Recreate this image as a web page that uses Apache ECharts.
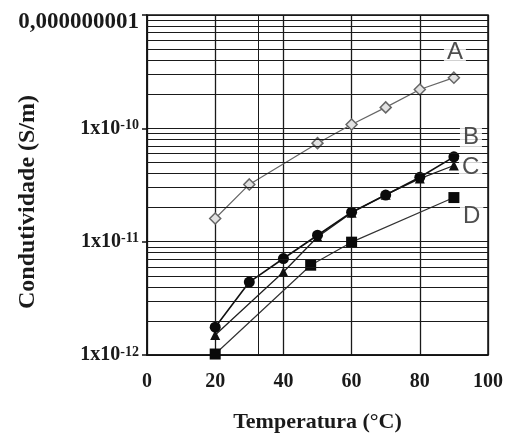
<!DOCTYPE html>
<html>
<head>
<meta charset="utf-8">
<script src="https://cdn.jsdelivr.net/npm/echarts@6/dist/echarts.min.js"></script>
<style>
html,body{margin:0;padding:0;background:#fff;}
#chart{width:515px;height:434px;}
</style>
</head>
<body>
<div id="chart"></div>
<script>
// ---- Data ----
const seriesNames = ['A', 'B', 'C', 'D'];
const xA = [20, 30, 50, 60, 70, 80, 90];
const yA = [1.6e-11, 3.2e-11, 7.4e-11, 1.08e-10, 1.53e-10, 2.2e-10, 2.8e-10];
const xB = [20, 40, 50, 60, 70, 80, 90];
const yB = [1.5e-12, 5.4e-12, 1.1e-11, 1.8e-11, 2.6e-11, 3.6e-11, 4.7e-11];
const xC = [20, 30, 40, 50, 60, 70, 80, 90];
const yC = [1.76e-12, 4.4e-12, 7.1e-12, 1.14e-11, 1.82e-11, 2.58e-11, 3.7e-11, 5.6e-11];
const xD = [20, 48, 60, 90];
const yD = [1.02e-12, 6.2e-12, 9.9e-12, 2.45e-11];
const labelX = [90.3, 95.0, 94.9, 95.2];
const labelY = [4.7e-10, 8.4e-11, 4.5e-11, 1.68e-11];
const xTicks = [0, 20, 40, 60, 80, 100];
const yDecades = [1e-12, 1e-11, 1e-10, 1e-9];
const minorMultipliers = [2, 3, 4, 5, 6, 7, 8, 9];
const extraVerticalLines = [32.5];
const xTitle = 'Temperatura (°C)';
const yTitle = 'Condutividade (S/m)';
const topTickText = '0,000000001';

// ---- Build ----
function pairs(xs, ys) { return xs.map((x, i) => [x, ys[i]]); }
const xMin = xTicks[0], xMax = xTicks[xTicks.length - 1];
const yMin = yDecades[0], yMax = yDecades[yDecades.length - 1];
const minorValues = [];
for (let d = 0; d < yDecades.length - 1; d++) {
  minorMultipliers.forEach(m => minorValues.push(m * yDecades[d]));
}
const gridLineStyle = { color: '#1a1a1a', width: 1, type: 'solid', opacity: 1 };
const gridMarkData = minorValues.map(v => [{ coord: [xMin, v] }, { coord: [xMax, v] }])
  .concat(extraVerticalLines.map(v => [{ coord: [v, yMin] }, { coord: [v, yMax] }]));

const chart = echarts.init(document.getElementById('chart'));
const serif = '"Liberation Serif", "Times New Roman", serif';
chart.setOption({
  animation: false,
  backgroundColor: '#fff',
  grid: { left: 147, right: 27, top: 15, bottom: 79, show: true, borderColor: '#111', borderWidth: 1.5,
          backgroundColor: 'transparent', containLabel: false, outerBoundsMode: 'none' },
  xAxis: {
    type: 'value', min: xMin, max: xMax, interval: 20,
    name: xTitle, nameLocation: 'middle', nameGap: 56, nameMoveOverlap: false,
    nameTextStyle: { fontFamily: serif, fontWeight: 'bold', fontSize: 22, color: '#1a1a1a' },
    axisLine: { show: true, lineStyle: { color: '#111', width: 1.5 } },
    axisTick: { show: false },
    axisLabel: { fontFamily: serif, fontWeight: 'bold', fontSize: 20, color: '#1a1a1a', margin: 17 },
    splitLine: { show: true, lineStyle: { color: '#1a1a1a', width: 1.3 } }
  },
  yAxis: {
    type: 'log', logBase: 10, min: yMin, max: yMax,
    name: yTitle, nameLocation: 'middle', nameGap: 107, nameRotate: 90, nameMoveOverlap: false,
    nameTextStyle: { fontFamily: serif, fontWeight: 'bold', fontSize: 24, color: '#1a1a1a', padding: [0, 34, 0, 0] },
    axisLine: { show: true, lineStyle: { color: '#111', width: 1.5 } },
    axisTick: { show: true, length: 5, lineStyle: { color: '#111', width: 1.5 } },
    axisLabel: {
      margin: 8,
      formatter: function (v) {
        const e = Math.round(Math.log10(v));
        if (e === -9) return '{t|' + topTickText + '}';
        return '{b|1x10}{s|' + e + '}';
      },
      rich: {
        t: { fontFamily: serif, fontWeight: 'bold', fontSize: 23, color: '#1a1a1a', padding: [15, 0, 0, 0] },
        b: { fontFamily: serif, fontWeight: 'bold', fontSize: 20, color: '#1a1a1a', verticalAlign: 'bottom' },
        s: { fontFamily: serif, fontWeight: 'bold', fontSize: 14, color: '#1a1a1a', verticalAlign: 'top' }
      }
    },
    splitLine: { show: true, lineStyle: gridLineStyle }
  },
  series: [
    {
      name: 'grid', type: 'line', data: pairs(xA, yA), z: 1, silent: true,
      symbol: 'none', lineStyle: { opacity: 0 }, itemStyle: { opacity: 0 },
      markLine: {
        silent: true, symbol: 'none', label: { show: false },
        lineStyle: gridLineStyle,
        data: gridMarkData
      }
    },
    {
      name: seriesNames[0], type: 'line', data: pairs(xA, yA), z: 3,
      symbol: 'diamond', symbolSize: 11,
      lineStyle: { color: '#666', width: 1.2 },
      itemStyle: { color: '#e2e2e2', borderColor: '#666', borderWidth: 1.5 }
    },
    {
      name: seriesNames[1], type: 'line', data: pairs(xB, yB), z: 3,
      symbol: 'triangle', symbolSize: 10,
      lineStyle: { color: '#222', width: 1.3 },
      itemStyle: { color: '#111' }
    },
    {
      name: seriesNames[2], type: 'line', data: pairs(xC, yC), z: 4,
      symbol: 'circle', symbolSize: 11,
      lineStyle: { color: '#111', width: 1.6 },
      itemStyle: { color: '#0a0a0a' }
    },
    {
      name: seriesNames[3], type: 'line', data: pairs(xD, yD), z: 3,
      symbol: 'rect', symbolSize: 11,
      lineStyle: { color: '#333', width: 1.2 },
      itemStyle: { color: '#0a0a0a' }
    },
    {
      name: 'labels', type: 'scatter', z: 5, silent: true,
      symbolSize: 0,
      data: seriesNames.map((n, i) => ({ name: n, value: [labelX[i], labelY[i]] })),
      label: {
        show: true, position: 'inside', formatter: p => p.name,
        fontFamily: '"Liberation Sans", Arial, sans-serif', fontSize: 24, color: '#222',
        backgroundColor: '#fff', padding: [0, 3, 0, 3], lineHeight: 22
      }
    }
  ]
});
</script>
</body>
</html>
